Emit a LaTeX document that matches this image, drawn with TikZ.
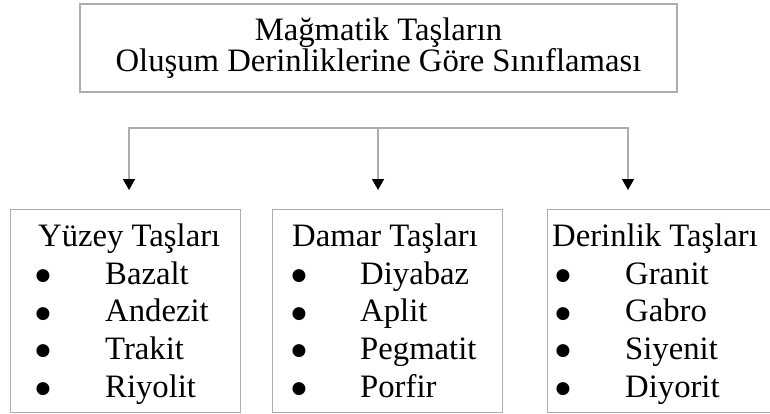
\documentclass[tikz,border=0pt]{standalone}
\usepackage{fontspec}
\setmainfont{Liberation Serif}
\newfontfamily\dotfont{DejaVu Sans}
\usetikzlibrary{arrows.meta}
\def\bigtype{\fontsize{32.7}{31}\selectfont}
\def\dottype{\dotfont\fontsize{17}{17}\selectfont}

\tikzset{
  frame/.style={draw=black!32, line width=1.3pt},
  bar/.style={draw=black!32, line width=1.5pt},
  drop/.style={bar, -{Triangle[black, width=12pt, length=11pt]}, shorten >=19pt},
  word/.style={inner sep=0pt, font=\bigtype},
  dot/.style={inner sep=0pt, font=\dottype},
}

\begin{document}
\begin{tikzpicture}[x=1pt, y=-1pt]
\clip (0,0) rectangle (770,414);
\fill[white] (0,0) rectangle (770,414);

\node[frame, word, align=center, minimum width=597pt, minimum height=88pt] (title) at (378.5,48)
  {Mağmatik Taşların\\Oluşum Derinliklerine Göre Sınıflaması};

% the three groups: name/left/width/heading x/bullet x/text x/heading/rocks
\foreach \name/\lx/\bw/\hx/\bx/\tx/\head/\rocks in {
  yuzey/10/230/38/43/105/{Yüzey Taşları}/{Bazalt,Andezit,Trakit,Riyolit},
  damar/272/230/292/299/360/{Damar Taşları}/{Diyabaz,Aplit,Pegmatit,Porfir},
  derinlik/547/243/552/563/625/{Derinlik Taşları}/{Granit,Gabro,Siyenit,Diyorit}}{
  \node[frame, anchor=north west, minimum width=\bw pt, minimum height=203pt] (\name) at (\lx,209) {};
  \node[word, anchor=base west] (\name-head) at (\hx,246) {\head};
  \foreach \rock [count=\i from 0] in \rocks {
    \node[dot] (\name-dot\i) at (\bx,{276+37.7*\i}) {●};
    \node[word, anchor=base west] (\name-rock\i) at (\tx,{284+37.7*\i}) {\rock};
  }
}

\coordinate (j1) at (129,128);
\coordinate (j2) at (378,128);
\coordinate (j3) at (628,128);
\draw[bar, line cap=rect] (j1) -- (j3);
\draw[drop] (j1) -- (j1 |- yuzey.north);
\draw[drop] (j2) -- (j2 |- damar.north);
\draw[drop] (j3) -- (j3 |- derinlik.north);
\end{tikzpicture}
\end{document}
